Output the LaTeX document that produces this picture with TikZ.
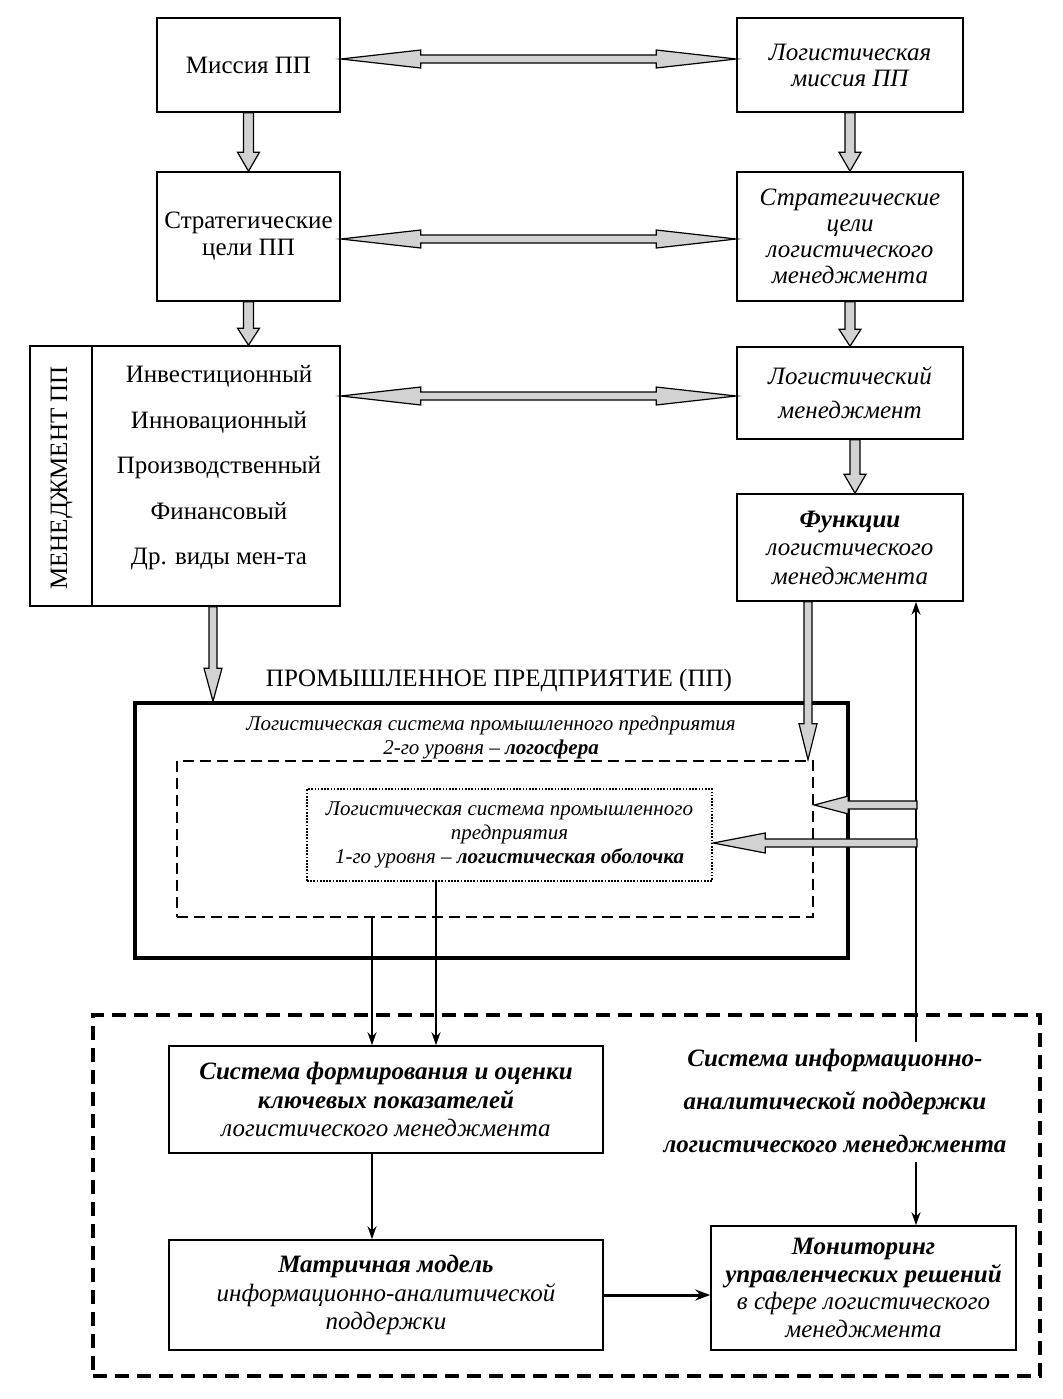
\documentclass[tikz,border=0pt]{standalone}
\usepackage{fontspec}
\setmainfont{Liberation Serif}
\usetikzlibrary{calc,arrows.meta}
\newcommand\dnarrow[5]{%
  \draw[hollow] ($#1+(-#3,0)$) -- ($#2+(-#3,-#5)$) -- ($#2+(-#4,-#5)$) -- #2 -- ($#2+(#4,-#5)$) -- ($#2+(#3,-#5)$) -- ($#1+(#3,0)$) -- cycle;}
\newcommand\lfarrow[5]{%
  \draw[hollow] ($#1+(0,-#3)$) -- ($#2+(#5,-#3)$) -- ($#2+(#5,-#4)$) -- #2 -- ($#2+(#5,#4)$) -- ($#2+(#5,#3)$) -- ($#1+(0,#3)$) -- cycle;}
\newcommand\dblarrow[5]{%
  \draw[hollow] #1 -- ($#1+(#5,-#4)$) -- ($#1+(#5,-#3)$) -- ($#2+(-#5,-#3)$) -- ($#2+(-#5,-#4)$) -- #2 -- ($#2+(-#5,#4)$) -- ($#2+(-#5,#3)$) -- ($#1+(#5,#3)$) -- ($#1+(#5,#4)$) -- cycle;}
\begin{document}
\begin{tikzpicture}[x=1pt,y=-1pt,
  box/.style={draw, line width=1.6pt, align=center, inner sep=0pt},
  hollow/.style={draw, line width=1.2pt, fill=gray!35, line join=miter},
  thinarr/.style={line width=1.8pt, -{Stealth[length=13pt,width=9pt]}},
  big/.style={font=\fontsize{25}{27}\selectfont},
  mid/.style={font=\fontsize{21}{24}\selectfont\itshape},
  low/.style={font=\fontsize{25}{28.5}\selectfont\itshape}]
\useasboundingbox (0,0) rectangle (1062,1399);

% top row
\node[box, big, minimum width=183, minimum height=94] (m1) at (248.5,65) {Миссия ПП};
\node[box, big, minimum width=226, minimum height=94, font=\fontsize{25}{26}\selectfont\itshape] (m2) at (850,65) {Логистическая\\миссия ПП};
\node[box, big, minimum width=183, minimum height=129] (s1) at (248.5,236.5) {Стратегические\\цели ПП};
\node[box, minimum width=226, minimum height=129, font=\fontsize{25}{26}\selectfont\itshape] (s2) at (850,236.5) {Стратегические\\цели\\логистического\\менеджмента};

% management
\node[draw, line width=1.6pt, minimum width=310, minimum height=260, inner sep=0pt] (mgmt) at (185,476) {};
\draw[line width=1.6pt] ([xshift=63pt]mgmt.north west) -- ([xshift=63pt]mgmt.south west);
\node[rotate=90, big] (mlbl) at (61.5,478) {МЕНЕДЖМЕНТ ПП};
\node[align=center, font=\fontsize{25}{45.5}\selectfont, inner sep=0pt] (mlist) at (219,468) {Инвестиционный\\Инновационный\\Производственный\\Финансовый\\Др. виды мен-та};

\node[box, minimum width=226, minimum height=92, font=\fontsize{25}{34}\selectfont\itshape] (l1) at (850,393) {Логистический\\менеджмент};
\node[box, minimum width=226, minimum height=107, font=\fontsize{25}{28.5}\selectfont\itshape] (f1) at (850,547.5) {\textbf{Функции}\\логистического\\менеджмента};

% enterprise
\node[font=\fontsize{25}{27}\selectfont] (pplbl) at (499,680) {ПРОМЫШЛЕННОЕ ПРЕДПРИЯТИЕ (ПП)};
\node[draw, line width=3.5pt, minimum width=713, minimum height=255, inner sep=0pt] (pp) at (491.5,830.5) {};
\node[mid, align=center, inner sep=0pt] (pptxt) at (491,737.5) {Логистическая система промышленного предприятия\\2-го уровня – \textbf{логосфера}};
\node[draw, line width=2.6pt, dash pattern=on 11pt off 6pt, minimum width=636, minimum height=156, inner sep=0pt] (dashbox) at (495,839) {};
\node[draw, line width=2.4pt, dash pattern=on 1.7pt off 1.5pt, minimum width=405, minimum height=92, inner sep=0pt, align=center, mid] (dotbox) at (509.5,835) {Логистическая система промышленного\\предприятия\\1-го уровня – \textbf{логистическая оболочка}};

% bottom block
\node[draw, line width=3.2pt, dash pattern=on 14pt off 8pt, minimum width=947, minimum height=361, inner sep=0pt] (bigbox) at (566.5,1195.5) {};
\node[box, low, minimum width=434, minimum height=107] (sf) at (386,1099.5) {\textbf{Система формирования и оценки}\\\textbf{ключевых показателей}\\логистического менеджмента};
\node[box, low, minimum width=434, minimum height=110] (mm) at (386,1295) {\textbf{Матричная модель}\\информационно-аналитической\\поддержки};
\node[box, low, minimum width=305, minimum height=124, font=\fontsize{25}{27.5}\selectfont\itshape] (mon) at (863.5,1288) {\textbf{Мониторинг}\\\textbf{управленческих решений}\\в сфере логистического\\менеджмента};
\node[align=center, inner sep=0pt, font=\fontsize{25}{43}\selectfont\bfseries\itshape] (sys) at (835,1101) {Система информационно-\\аналитической поддержки\\логистического менеджмента};

% hollow arrows
\dblarrow{([yshift=6pt]m1.east)}{([yshift=6pt]m2.west)}{4}{9}{80}
\dblarrow{([yshift=-2.5pt]s1.east)}{([yshift=-2.5pt]s2.west)}{4}{9}{80}
\coordinate (r3) at (mgmt.east |- l1.west);
\dblarrow{([yshift=-3pt]r3)}{([yshift=-3pt]l1.west)}{4}{9}{80}
\dnarrow{(m1.south)}{(s1.north)}{5}{11}{19}
\dnarrow{(m2.south)}{(s2.north)}{5}{11}{19}
\dnarrow{(s1.south)}{(mgmt.north -| s1.south)}{5}{11}{17}
\dnarrow{(s2.south)}{(s2.south |- l1.north)}{5}{11}{17}
\dnarrow{([xshift=5pt]l1.south)}{([xshift=5pt]f1.north)}{5}{11}{19}
\coordinate (ax1) at (213,0);
\dnarrow{(mgmt.south -| ax1)}{(pp.north -| ax1)}{4}{9}{33}
\coordinate (ax2) at (808,0);
\dnarrow{(f1.south -| ax2)}{(dashbox.north -| ax2)}{4}{9}{36}

% info line
\coordinate (vx) at (916,0);
\coordinate (vt) at (916,1042);
\coordinate (vb) at (916,1162);
\draw[thinarr] (vt) -- (vx |- f1.south);
\draw[thinarr] (vb) -- (vx |- mon.north);
\coordinate (h1) at (917,805);
\coordinate (h2) at (917,843);
\coordinate (t1) at (dashbox.east |- h1);
\coordinate (t2) at (dotbox.east |- h2);
\lfarrow{(h1)}{(t1)}{4}{9}{34}
\lfarrow{(h2)}{(t2)}{4}{10}{52}

% thin arrows
\coordinate (sx) at (372,0);
\coordinate (dx) at (436,0);
\draw[thinarr] (dashbox.south -| sx) -- (sx |- sf.north);
\draw[thinarr] (dotbox.south -| dx) -- (dx |- sf.north);
\draw[thinarr] (sf.south -| sx) -- (sx |- mm.north);
\draw[line width=3pt, -{Stealth[length=15pt,width=11pt]}] (mm.east) -- (mm.east -| mon.west);
\end{tikzpicture}
\end{document}
